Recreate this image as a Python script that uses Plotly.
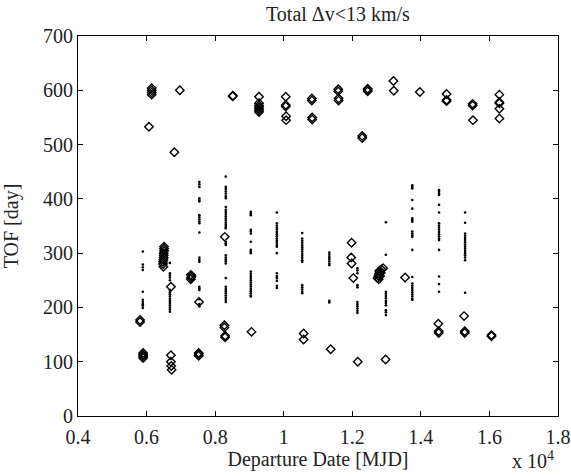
import plotly.graph_objects as go

# ---- data (x in units of 10^4 MJD, TOF in days) ----
diamond_x = [0.581, 0.581,
             0.59, 0.59, 0.59, 0.59,
             0.607,
             0.615, 0.615, 0.615, 0.615,
             0.697, 0.681,
             0.649, 0.648, 0.648, 0.649, 0.65, 0.65, 0.65, 0.651, 0.651, 0.651,
             0.671,
             0.671, 0.671, 0.672, 0.673,
             0.729, 0.73, 0.731, 0.729,
             0.753,
             0.752, 0.752, 0.752,
             0.828,
             0.827, 0.827, 0.829, 0.829,
             0.851, 0.852,
             0.906,
             0.928, 0.928, 0.928, 0.928, 0.928, 0.928, 0.928,
             1.006, 1.006, 1.006, 1.007, 1.007,
             1.058, 1.058,
             1.082, 1.082, 1.083, 1.083,
             1.137,
             1.159, 1.159, 1.16, 1.16,
             1.198, 1.197, 1.198, 1.203,
             1.216,
             1.229, 1.229,
             1.245, 1.245, 1.245,
             1.274, 1.276, 1.278, 1.279, 1.281, 1.283, 1.285, 1.277, 1.28, 1.29,
             1.297,
             1.32, 1.321,
             1.354,
             1.397,
             1.451, 1.452, 1.452,
             1.475, 1.475, 1.475,
             1.526, 1.528, 1.528,
             1.551, 1.551, 1.552,
             1.606, 1.606,
             1.629, 1.629, 1.629, 1.629, 1.629]
diamond_y = [173, 177,
             107, 110, 113, 116,
             533,
             592, 596, 600, 604,
             600, 486,
             275, 280, 284, 288, 292, 296, 300, 304, 308, 312,
             238,
             112, 100, 92, 85,
             252, 255, 258, 260,
             210,
             111, 114, 116,
             330,
             163, 167, 145, 148,
             589, 590,
             155,
             588, 576, 572, 569, 566, 563, 560,
             588, 570, 573, 552, 545,
             152, 141,
             581, 585, 546, 550,
             123,
             598, 602, 581, 585,
             319, 292, 281, 254,
             100,
             512, 516,
             598, 601, 603,
             254, 258, 262, 266, 258, 264, 270, 252, 268, 272,
             104,
             617, 599,
             255,
             597,
             170, 153, 156,
             593, 580, 582,
             184, 153, 156,
             572, 575, 545,
             147, 149,
             592, 576, 578, 566, 548]

dot_columns = [0.589, 0.668, 0.754, 0.831, 0.904, 0.98, 1.054, 1.133,
               1.215, 1.298, 1.375, 1.453, 1.529]
dot_tofs = [
    [303, 279, 274, 269, 229, 214, 210, 206, 203, 199],
    [282, 263, 259, 255, 250, 232, 228, 224, 220, 216, 212, 208, 204, 200, 196, 192],
    [431, 427, 422, 401, 398, 395, 370, 366, 362, 358, 355, 338, 292, 288, 284,
     238, 235, 232, 215, 206, 202],
    [441, 422, 418, 414, 410, 405, 401, 385, 380, 376, 372, 368, 364, 360, 356,
     352, 348, 346, 321, 318, 315, 296, 292, 288, 285, 281, 254, 238, 234, 230,
     226, 222, 218, 214, 210],
    [376, 373, 370, 343, 340, 336, 321, 306, 303, 300, 266, 262, 258, 254, 250,
     246, 242, 238, 234, 230, 226, 222, 220],
    [375, 355, 351, 347, 343, 339, 335, 331, 327, 323, 319, 315, 312, 300, 263,
     258, 254, 249, 240, 236],
    [337, 327, 323, 319, 315, 311, 307, 303, 299, 295, 291, 287, 284, 241, 237,
     233, 229, 226],
    [301, 297, 293, 289, 285, 281, 278, 212, 209],
    [272, 268, 263, 241, 237, 210, 206, 202, 198, 194, 190],
    [357, 297, 229, 225, 221, 217, 212, 208, 204, 195, 191, 186],
    [425, 422, 419, 398, 382, 364, 361, 358, 340, 336, 333, 330, 306, 256, 244,
     240, 236, 232, 228, 224, 220, 216, 214],
    [416, 413, 410, 407, 389, 375, 355, 351, 347, 343, 339, 335, 331, 327, 324,
     306, 257, 243, 229],
    [375, 356, 336, 332, 328, 324, 320, 316, 312, 308, 304, 300, 296, 292, 287, 227],
]

x_ticks = [0.4, 0.6, 0.8, 1.0, 1.2, 1.4, 1.6, 1.8]
x_tick_labels = ["0.4", "0.6", "0.8", "1", "1.2", "1.4", "1.6", "1.8"]
y_ticks = [0, 100, 200, 300, 400, 500, 600, 700]

dot_x = []
dot_y = []
for cx, ys in zip(dot_columns, dot_tofs):
    dot_x += [cx] * len(ys)
    dot_y += ys

FONT = "'Liberation Serif', 'Times New Roman', Times, serif"
TXT = "#222222"

fig = go.Figure()
fig.add_trace(go.Scatter(x=dot_x, y=dot_y, mode="markers",
                         marker=dict(symbol="circle", size=2.6, color="black",
                                     line=dict(width=0)),
                         showlegend=False, hoverinfo="skip"))
fig.add_trace(go.Scatter(x=diamond_x, y=diamond_y, mode="markers",
                         marker=dict(symbol="diamond-open", size=6.5,
                                     color="black", line=dict(width=1.4, color="black")),
                         showlegend=False))

axis_common = dict(showline=True, linecolor="black", linewidth=1.2, mirror="ticks",
                   ticks="inside", ticklen=5, tickwidth=1, tickcolor="black",
                   showgrid=False, zeroline=False, automargin=False,
                   tickfont=dict(family=FONT, size=20, color=TXT))

fig.update_layout(
    width=571, height=476,
    margin=dict(l=78, r=13, t=36, b=60),
    paper_bgcolor="white", plot_bgcolor="white",
    font=dict(family=FONT, size=20, color=TXT),
    xaxis=dict(range=[0.4, 1.8], tickvals=x_ticks, ticktext=x_tick_labels,
               ticklabelstandoff=3,
               title=dict(text="Departure Date [MJD]",
                          font=dict(family=FONT, size=20, color=TXT),
                          standoff=4),
               **axis_common),
    yaxis=dict(range=[0, 700], tickvals=y_ticks,
               title=dict(text="TOF [day]", font=dict(family=FONT, size=20, color=TXT),
                          standoff=22),
               **axis_common),
    annotations=[
        dict(text="Total Δv<13 km/s", xref="paper", yref="paper", x=0.541, y=1.058,
             xanchor="center", yanchor="middle", showarrow=False,
             font=dict(family=FONT, size=20, color=TXT)),
        dict(text="x 10<sup>4</sup>", xref="paper", yref="paper", x=0.995, y=-0.115,
             xanchor="right", yanchor="middle", showarrow=False,
             font=dict(family=FONT, size=20, color=TXT)),
    ],
)

fig.write_html("out.html")
